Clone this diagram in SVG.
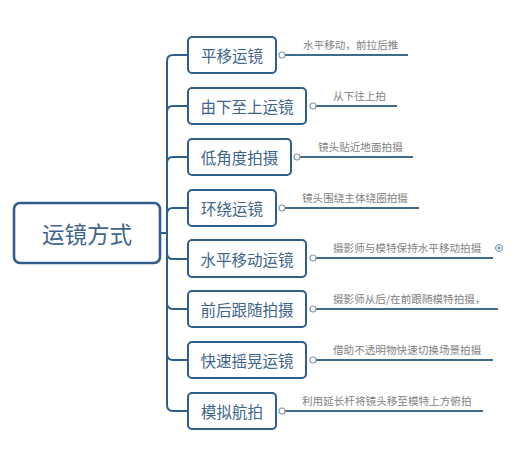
<svg xmlns="http://www.w3.org/2000/svg" width="514" height="451" viewBox="0 0 514 451">
<style>
.box{fill:#fff;stroke:#2f5e8c;stroke-width:2}
.root{fill:#fff;stroke:#2f5e8c;stroke-width:2.6}
.t{font-family:"Noto Sans CJK SC","Noto Sans",sans-serif;fill:#40658a;font-size:15.5px;text-anchor:middle;dominant-baseline:central}
.rt{font-size:22.5px}
.lf{font-family:"Noto Sans CJK SC","Noto Sans",sans-serif;fill:#828282;font-size:10.6px}
.br{fill:none;stroke:#2f5e8c;stroke-width:2}
.ln{fill:none;stroke:#3f6b8c;stroke-width:2}
.dot{fill:#fff;stroke:#8a9aa8;stroke-width:1.2}
</style>
<rect width="514" height="451" fill="#fff"/>
<g id="connectors">
<path class="br" d="M160,233 L167,233 M167,61 L167,405"/>
<path class="br" d="M167,61 Q167,55 173,55 L188,55"/>
<path class="br" d="M167,112 Q167,106 173,106 L188,106"/>
<path class="br" d="M167,163 Q167,157 173,157 L188,157"/>
<path class="br" d="M167,214 Q167,208 173,208 L188,208"/>
<path class="br" d="M167,253 Q167,259 173,259 L188,259"/>
<path class="br" d="M167,303 Q167,309 173,309 L188,309"/>
<path class="br" d="M167,354 Q167,360 173,360 L188,360"/>
<path class="br" d="M167,405 Q167,411 173,411 L188,411"/>
<path class="ln" d="M285,55 L408,55"/>
<path class="ln" d="M316,106 L397,106"/>
<path class="ln" d="M300,157 L413,157"/>
<path class="ln" d="M285,208 L419,208"/>
<path class="ln" d="M316,258 L493,258"/>
<path class="ln" d="M316,309 L498,309"/>
<path class="ln" d="M316,360 L493,360"/>
<path class="ln" d="M285,411 L483,411"/>
<circle class="dot" cx="282" cy="55" r="3"/>
<circle class="dot" cx="313" cy="106" r="3"/>
<circle class="dot" cx="297" cy="157" r="3"/>
<circle class="dot" cx="282" cy="208" r="3"/>
<circle class="dot" cx="313" cy="258" r="3"/>
<circle class="dot" cx="313" cy="309" r="3"/>
<circle class="dot" cx="313" cy="360" r="3"/>
<circle class="dot" cx="282" cy="411" r="3"/>
</g>
<g id="root"><rect class="root" x="14" y="203" width="146" height="60" rx="6"/><text class="t rt" x="87" y="233">运镜方式</text></g>
<g id="n1"><rect class="box" x="188" y="37" width="88" height="36" rx="4"/><text class="t" x="232" y="55">平移运镜</text><text class="lf" x="303" y="49">水平移动，前拉后推</text></g>
<g id="n2"><rect class="box" x="188" y="88" width="118" height="36" rx="4"/><text class="t" x="247" y="106">由下至上运镜</text><text class="lf" x="333" y="100">从下往上拍</text></g>
<g id="n3"><rect class="box" x="188" y="139" width="103" height="36" rx="4"/><text class="t" x="239.5" y="157">低角度拍摄</text><text class="lf" x="318" y="151">镜头贴近地面拍摄</text></g>
<g id="n4"><rect class="box" x="188" y="190" width="88" height="36" rx="4"/><text class="t" x="232" y="208">环绕运镜</text><text class="lf" x="302" y="202">镜头围绕主体绕圈拍摄</text></g>
<g id="n5"><rect class="box" x="188" y="240" width="118" height="37" rx="4"/><text class="t" x="247" y="259">水平移动运镜</text><text class="lf" x="333" y="252">摄影师与模特保持水平移动拍摄</text>
<circle cx="499" cy="248" r="3.5" fill="#fff" stroke="#6a8a9a" stroke-width="1"/><path d="M497,248 L501,248 M499,246 L499,250" stroke="#6a8a9a" stroke-width="1"/></g>
<g id="n6"><rect class="box" x="188" y="291" width="118" height="36" rx="4"/><text class="t" x="247" y="309">前后跟随拍摄</text><text class="lf" x="333" y="303">摄影师从后/在前跟随模特拍摄，</text></g>
<g id="n7"><rect class="box" x="188" y="342" width="118" height="36" rx="4"/><text class="t" x="247" y="360">快速摇晃运镜</text><text class="lf" x="333" y="354">借助不透明物快速切换场景拍摄</text></g>
<g id="n8"><rect class="box" x="188" y="393" width="88" height="36" rx="4"/><text class="t" x="232" y="411">模拟航拍</text><text class="lf" x="302" y="405">利用延长杆将镜头移至模特上方俯拍</text></g>
</svg>
